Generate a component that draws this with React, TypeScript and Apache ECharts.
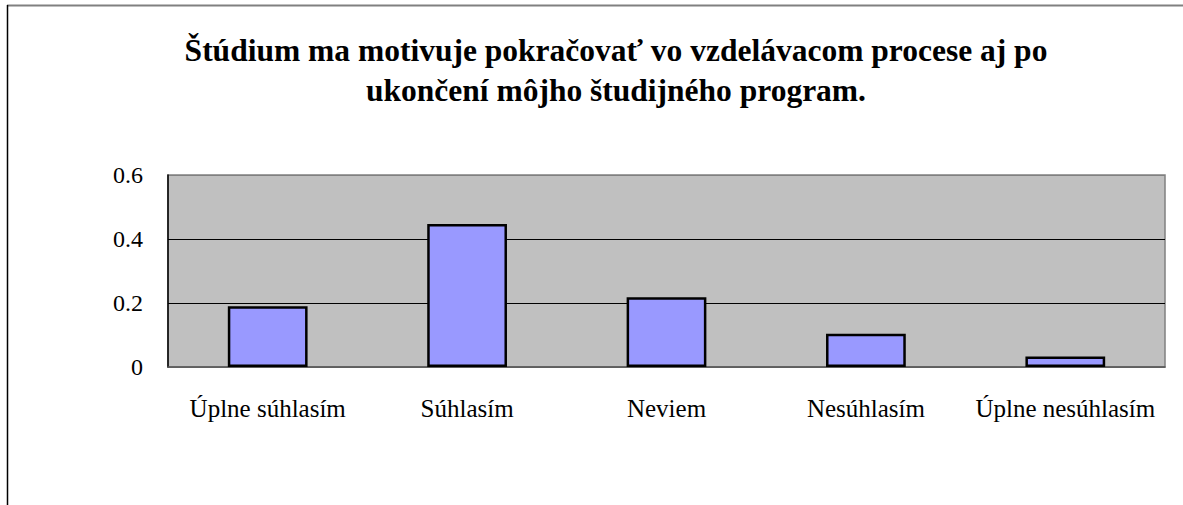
import React, { useEffect, useRef } from "react";
import * as echarts from "echarts";

const titleLines = [
  "Štúdium ma motivuje pokračovať vo vzdelávacom procese aj po",
  "ukončení môjho študijného program.",
];
const categories = ["Úplne súhlasím", "Súhlasím", "Neviem", "Nesúhlasím", "Úplne nesúhlasím"];
const values = [0.19, 0.447, 0.218, 0.104, 0.033];
const yTicks = { min: 0, max: 0.6, interval: 0.2 };

export default function App() {
  const ref = useRef<HTMLDivElement>(null);
  useEffect(() => {
    if (!ref.current) return;
    const chart = echarts.init(ref.current, undefined, { renderer: "svg" });
    const font = "'Liberation Serif', 'DejaVu Serif', serif";
    chart.setOption({
      animation: false,
      backgroundColor: "#ffffff",
      graphic: [
        { type: "line", shape: { x1: 7, y1: 5.5, x2: 1183, y2: 5.5 }, style: { stroke: "#808080", lineWidth: 2 } },
        { type: "line", shape: { x1: 7.5, y1: 5, x2: 7.5, y2: 505 }, style: { stroke: "#000000", lineWidth: 1.5 } },
        {
          type: "text",
          x: 616,
          y: 30,
          style: {
            text: titleLines.join("\n"),
            fill: "#000",
            font: `bold 31.5px ${font}`,
            lineHeight: 40,
            align: "center",
            verticalAlign: "top",
          },
        },
      ],
      grid: {
        left: 168,
        right: 18,
        top: 175,
        bottom: 138,
        show: true,
        backgroundColor: "#C0C0C0",
        borderColor: "#808080",
        borderWidth: 1.5,
      },
      xAxis: {
        type: "category",
        data: categories,
        axisLine: { lineStyle: { color: "#555555", width: 1.5 } },
        axisTick: { inside: true, length: 6, lineStyle: { color: "#555555" } },
        axisLabel: { color: "#000", fontFamily: font, fontSize: 25, margin: 29, interval: 0 },
      },
      yAxis: {
        type: "value",
        min: yTicks.min,
        max: yTicks.max,
        interval: yTicks.interval,
        axisLine: { show: true, lineStyle: { color: "#000", width: 1.5 } },
        axisTick: { show: false },
        axisLabel: {
          color: "#000",
          fontFamily: font,
          fontSize: 24,
          margin: 25,
          formatter: (v: number) => (v === 0 ? "0" : String(Math.round(v * 10) / 10)),
        },
        splitLine: { show: true, lineStyle: { color: ["#808080", "#000", "#000", "#808080"], width: 1 } },
      },
      series: [
        {
          type: "bar",
          data: values,
          barWidth: "40%",
          itemStyle: { color: "#9999FF", borderColor: "#000", borderWidth: 2.5 },
        },
      ],
    });
    return () => chart.dispose();
  }, []);
  return <div ref={ref} style={{ position: "fixed", left: 0, top: 0, width: 1183, height: 505 }} />;
}
